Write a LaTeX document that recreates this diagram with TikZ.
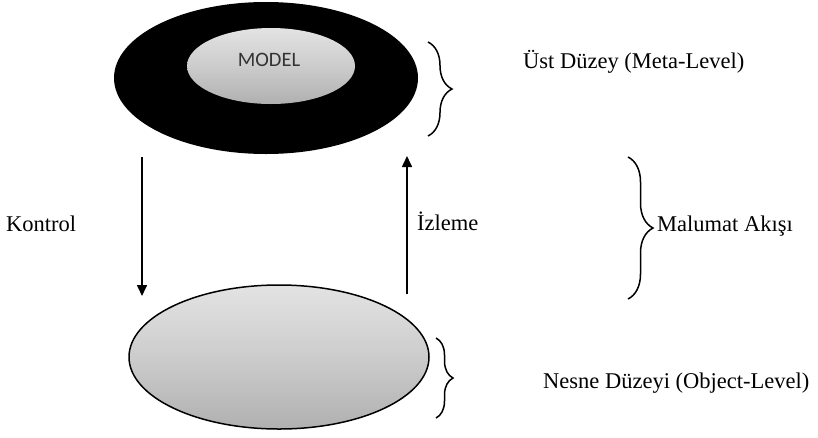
\documentclass[tikz,border=0pt]{standalone}
\usepackage{fontspec}
\setmainfont{Liberation Serif}
\newfontfamily\modelfont{Carlito}
\usetikzlibrary{shapes.geometric,decorations.pathreplacing,arrows.meta}
\tikzset{
  lbl/.style={anchor=base west, inner sep=0pt, font=\fontsize{22.5}{26}\selectfont},
  flow/.style={line width=1.6pt, -{Triangle[length=11pt,width=10pt]}},
  bracestyle/.style={line width=1.5pt, decorate, decoration={brace, amplitude=#1}},
  levelfill/.style={top color=gray!22, bottom color=gray!62, middle color=gray!40}
}
\begin{document}
\begin{tikzpicture}[x=1pt,y=-1pt]
\useasboundingbox (0,0) rectangle (818,437);
% top level
\node[ellipse, fill=black, minimum width=304pt, minimum height=152pt, inner sep=0pt] (meta) at (266,78) {};
\node[ellipse, levelfill, minimum width=168pt, minimum height=76pt, inner sep=0pt] (model) at (271,66) {};
\node[inner sep=0pt, font=\modelfont\fontsize{20.5}{24}\selectfont, text=black!80] (modeltxt) at (269,60) {MODEL};
% bottom level
\node[ellipse, draw=black, line width=1.5pt, levelfill, minimum width=300pt, minimum height=144pt, inner sep=0pt] (object) at (279,357) {};
% arrows
\coordinate (k1) at (142,157);
\coordinate (k2) at (142,296);
\coordinate (i1) at (407,294);
\coordinate (i2) at (407,156);
\draw[flow] (k1) -- (k2);
\draw[flow] (i1) -- (i2);
% braces
\coordinate (b1a) at (428,42);
\coordinate (b1b) at (428,136);
\coordinate (b2a) at (628,157);
\coordinate (b2b) at (628,299);
\coordinate (b3a) at (436,338);
\coordinate (b3b) at (436,418);
\draw[bracestyle=24pt] (b1a) -- (b1b);
\draw[bracestyle=25pt] (b2a) -- (b2b);
\draw[bracestyle=17pt] (b3a) -- (b3b);
% labels
\node[lbl] (kontrol) at (6,231) {Kontrol};
\node[lbl] (izleme) at (417,230) {İzleme};
\node[lbl] (malumat) at (657,231) {Malumat Akışı};
\node[lbl] (ust) at (523,68) {Üst Düzey (Meta-Level)};
\node[lbl] (nesne) at (543,388) {Nesne Düzeyi (Object-Level)};
\end{tikzpicture}
\end{document}
